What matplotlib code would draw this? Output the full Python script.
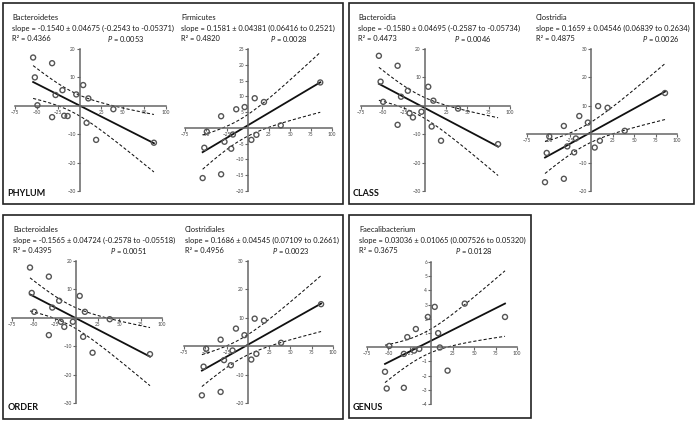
import numpy as np
import matplotlib
matplotlib.use("Agg")
import matplotlib.pyplot as plt
from matplotlib.patches import Rectangle

# same 16 subjects on every panel (x = change, %)
x_change = [-54, -52, -49, -32, -32, -28, -20, -18, -14, -4, 4, 8, 10, 19, 39, 86]

# y values, same order as x_change
bacteroidetes = [17, 10, 0.2, 15, -4, 3.8, 5.5, -3.5, -3.6, 4, 7.3, -6, 2.6, -12, -1.2, -13]
firmicutes = [-15.9, -6.3, -1.2, 3.7, -14.7, -4.4, -6.6, -2.1, 5.9, 6.6, -3.8, 9.4, -2.2, 8.2, 0.8, 14.4]
bacteroidia = [17.6, 8.5, 1.4, 14.1, -6.7, 3.2, 5.3, -2.6, -4.1, -2.1, 6.7, -7.3, 1.8, -12.3, -1.0, -13.5]
clostridia = [-16.9, -6.6, -0.8, 2.9, -15.7, -4.3, -6.4, -1.5, 6.4, 4.1, -4.7, 9.9, -2.3, 9.3, 1.2, 14.5]
bacteroidales = [17.7, 8.75, 2.1, 14.5, -6.1, 3.6, 6.0, -1.4, -3.2, -1.4, 7.7, -6.7, 2.1, -12.3, -0.5, -12.8]
clostridiales = [-17.3, -7.2, -0.9, 2.3, -16.1, -4.9, -6.7, -1.5, 6.2, 3.9, -4.7, 9.7, -2.7, 9.0, 1.2, 14.8]
faecalibacterium = [-1.73, -2.91, 0.09, -0.47, -2.86, 0.71, -0.24, 1.28, -0.12, 2.13, 2.84, 0.99, -0.02, -1.65, 3.07, 2.13]

# regression stats (slope, SE of slope) printed on the figure
names = ["Bacteroidetes", "Firmicutes", "Bacteroidia", "Clostridia",
         "Bacteroidales", "Clostridiales", "Faecalibacterium"]
slopes = [-0.1540, 0.1581, -0.1580, 0.1659, -0.1565, 0.1686, 0.03036]
slope_se = [0.04675, 0.04381, 0.04695, 0.04546, 0.04724, 0.04545, 0.01065]
slope_txt = ["-0.1540 ± 0.04675 (-0.2543 to -0.05371)",
             "0.1581 ± 0.04381 (0.06416 to 0.2521)",
             "-0.1580 ± 0.04695 (-0.2587 to -0.05734)",
             "0.1659 ± 0.04546 (0.06839 to 0.2634)",
             "-0.1565 ± 0.04724 (-0.2578 to -0.05518)",
             "0.1686 ± 0.04545 (0.07109 to 0.2661)",
             "0.03036 ± 0.01065 (0.007526 to 0.05320)"]
r2_txt = ["0.4366", "0.4820", "0.4473", "0.4875", "0.4395", "0.4956", "0.3675"]
p_txt = ["0.0053", "0.0028", "0.0046", "0.0026", "0.0051", "0.0023", "0.0128"]

x_ticks = [-75, -50, -25, 25, 50, 75, 100]
y_ticks_a = [-30, -20, -10, 10, 20]
y_ticks_b = [-20, -15, -10, -5, 5, 10, 15, 20, 25]
y_ticks_c = [-20, -10, 10, 20, 30]
y_ticks_g = [-4, -3, -2, -1, 1, 2, 3, 4, 5, 6]

T_CRIT = 2.145  # t(0.975, 14 df)
W, H = 697, 422

plt.rcParams['font.family'] = ['Lato', 'DejaVu Sans']
plt.rcParams['mathtext.fontset'] = 'custom'
plt.rcParams['mathtext.it'] = 'Lato:italic'
plt.rcParams['mathtext.rm'] = 'Lato'


def fx(px):
    return px / W


def fy(py):
    return 1 - py / H


def draw_panel(fig, box, y_vals, slope, se, ylim, yticks):
    x0, y0, x1, y1 = box
    ax = fig.add_axes([fx(x0), fy(y1), (x1 - x0) / W, (y1 - y0) / H])
    ax.patch.set_alpha(0)
    ax.set_xlim(-75, 100)
    ax.set_ylim(*ylim)
    for s in ['top', 'right']:
        ax.spines[s].set_visible(False)
    for s in ['left', 'bottom']:
        ax.spines[s].set_position(('data', 0))
        ax.spines[s].set_color('#666666')
        ax.spines[s].set_linewidth(1.1)
    ax.set_xticks(x_ticks)
    ax.set_yticks(yticks)
    ax.tick_params(direction='out', length=2, width=0.8, color='#666666',
                   labelsize=3.4, labelcolor='#444444', pad=1)

    x = np.array(x_change, float)
    y = np.array(y_vals, float)
    # fitted line goes through the means, band = 95% CI of the line
    xbar, ybar = x.mean(), y.mean()
    sxx = ((x - xbar) ** 2).sum()
    s_res = se * np.sqrt(sxx)
    xx = np.linspace(x.min(), x.max(), 200)
    yy = ybar + slope * (xx - xbar)
    half = T_CRIT * np.sqrt(s_res ** 2 / len(x) + se ** 2 * (xx - xbar) ** 2)
    ax.plot(xx, yy, color='#111111', lw=1.3, zorder=2)
    ax.plot(xx, yy + half, color='#111111', lw=0.75, dashes=(3, 2), zorder=2)
    ax.plot(xx, yy - half, color='#111111', lw=0.75, dashes=(3, 2), zorder=2)
    ax.scatter(x, y, s=13, facecolors='none', edgecolors='#555555', linewidths=1.0, zorder=3)
    return ax


def panel_text(fig, i, tx, ty, p_x):
    kw = dict(fontsize=5.4, color='#1a1a1a', va='center', ha='left')
    fig.text(fx(tx), fy(ty), names[i], **kw)
    fig.text(fx(tx), fy(ty + 11.5), "slope = " + slope_txt[i], **kw)
    fig.text(fx(tx), fy(ty + 21.5), "R² = " + r2_txt[i], **kw)
    fig.text(fx(p_x), fy(ty + 21.5), "$P$ = " + p_txt[i], **kw)


if __name__ == "__main__":
    fig = plt.figure(figsize=(W / 100, H / 100), dpi=100)

    # outer boxes
    for (bx0, by0, bx1, by1) in [(3, 3, 343, 204), (349, 3, 694, 204),
                                 (3, 215, 343, 419), (349, 215, 531, 418)]:
        fig.patches.append(Rectangle((fx(bx0), fy(by1)), (bx1 - bx0) / W, (by1 - by0) / H,
                                     transform=fig.transFigure, fill=False,
                                     edgecolor='#222222', lw=1.2))

    draw_panel(fig, (15, 49, 166, 191), bacteroidetes, slopes[0], slope_se[0], (-30, 20), y_ticks_a)
    draw_panel(fig, (185, 49, 332, 191), firmicutes, slopes[1], slope_se[1], (-20, 25), y_ticks_b)
    draw_panel(fig, (361, 49, 510, 191), bacteroidia, slopes[2], slope_se[2], (-30, 20), y_ticks_a)
    draw_panel(fig, (527, 49, 677, 191), clostridia, slopes[3], slope_se[3], (-20, 30), y_ticks_c)
    draw_panel(fig, (12, 261, 162, 403), bacteroidales, slopes[4], slope_se[4], (-30, 20), y_ticks_a)
    draw_panel(fig, (184, 261, 333, 403), clostridiales, slopes[5], slope_se[5], (-20, 30), y_ticks_c)
    draw_panel(fig, (367, 262, 517, 404), faecalibacterium, slopes[6], slope_se[6], (-4, 6), y_ticks_g)

    panel_text(fig, 0, 12.5, 17, 107)
    panel_text(fig, 1, 181.5, 17, 270)
    panel_text(fig, 2, 358, 17, 454)
    panel_text(fig, 3, 535.5, 17, 642)
    panel_text(fig, 4, 13.5, 229, 110)
    panel_text(fig, 5, 185, 229, 272)
    panel_text(fig, 6, 359, 229, 455)

    lvl = dict(fontsize=6.5, fontweight='bold', color='#111111', va='center', ha='left')
    fig.text(fx(7.5), fy(193), "PHYLUM", **lvl)
    fig.text(fx(352.5), fy(193), "CLASS", **lvl)
    fig.text(fx(7.5), fy(407), "ORDER", **lvl)
    fig.text(fx(352.5), fy(407), "GENUS", **lvl)

    fig.savefig("out.png", dpi=100)
